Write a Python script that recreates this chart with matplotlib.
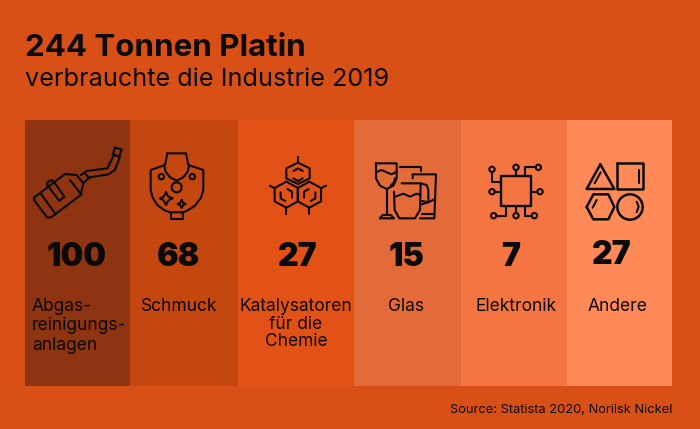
import matplotlib
matplotlib.use("Agg")
import matplotlib.pyplot as plt
from matplotlib.patches import Circle

BG = "#D95016"
INK = "#0A0A0A"

categories = ["Abgas-\nreinigungs-\nanlagen", "Schmuck", "Katalysatoren\nfür die\nChemie", "Glas", "Elektronik", "Andere"]
values = [100, 68, 27, 15, 7, 27]
colors = ["#8F3410", "#C44710", "#E25217", "#E36A39", "#F47542", "#FF8A57"]
edges = [25, 130, 238, 354, 461, 567, 672]

plt.rcParams["font.family"] = ["Inter", "DejaVu Sans"]

fig = plt.figure(figsize=(7, 4.29), dpi=100, facecolor=BG)
ax = fig.add_axes([0, 0, 1, 1])
ax.set_xlim(0, 700)
ax.set_ylim(429, 0)
ax.axis("off")

# columns all have the same height, the value is only printed
for i, c in enumerate(colors):
    ax.bar(edges[i], 266, width=edges[i + 1] - edges[i], bottom=120, align="edge", color=c, linewidth=0)


def line(ox, oy, pts, lw=1.5):
    xs = [ox + p[0] / 3 for p in pts]
    ys = [oy + p[1] / 3 for p in pts]
    ax.plot(xs, ys, color=INK, lw=lw, solid_capstyle="round", solid_joinstyle="round")


def circ(ox, oy, x, y, r, lw=1.5):
    ax.add_patch(Circle((ox + x / 3, oy + y / 3), r / 3, fill=False, ec=INK, lw=lw))


def exhaust(ox, oy):
    line(ox, oy, [(42, 248), (135, 177), (170, 180), (190, 205), (182, 240), (95, 306), (82, 308), (42, 255), (42, 248)])
    line(ox, oy, [(62, 235), (105, 295)])
    line(ox, oy, [(150, 195), (185, 240)])
    line(ox, oy, [(82, 210), (82, 202), (95, 195), (105, 205), (133, 245), (118, 258), (82, 210)])
    line(ox, oy, [(183, 180), (200, 168), (262, 160), (283, 118)])
    line(ox, oy, [(190, 205), (208, 187), (265, 178), (285, 165), (300, 125)])
    line(ox, oy, [(285, 98), (305, 103), (298, 125), (278, 118), (285, 98)])
    line(ox, oy, [(195, 175), (208, 190)])


def necklace(ox, oy):
    line(ox, oy, [(442, 115), (498, 115), (505, 150), (550, 165), (550, 225), (543, 248), (525, 272), (505, 285), (490, 292),
                  (450, 292), (432, 285), (412, 270), (398, 248), (392, 225), (392, 165), (435, 150), (442, 115)])
    line(ox, oy, [(432, 150), (437, 170), (450, 187), (470, 197), (490, 187), (503, 170), (508, 150)])
    circ(ox, oy, 470, 217, 15)
    circ(ox, oy, 424, 185, 8)
    circ(ox, oy, 517, 185, 8)
    line(ox, oy, [(438, 232), (445, 245), (458, 250), (445, 256), (438, 270), (431, 256), (420, 250), (431, 245), (438, 232)])
    line(ox, oy, [(485, 255), (489, 263), (497, 267), (489, 271), (485, 279), (481, 271), (473, 267), (481, 263), (485, 255)])
    line(ox, oy, [(452, 292), (452, 312), (490, 312), (490, 292)])


def hexagons(ox, oy):
    line(ox, oy, [(174, 143), (209, 160), (209, 190), (174, 207), (139, 190), (139, 160), (174, 143)])
    for cx, cy in [(139, 239), (208, 239)]:
        line(ox, oy, [(cx, cy - 39), (cx + 35, cy - 20), (cx + 35, cy + 20), (cx, cy + 39), (cx - 35, cy + 20),
                      (cx - 35, cy - 20), (cx, cy - 39)])
    line(ox, oy, [(174, 125), (174, 143)])
    line(ox, oy, [(139, 279), (139, 297)])
    line(ox, oy, [(208, 279), (208, 297)])
    line(ox, oy, [(90, 212), (104, 220)])
    line(ox, oy, [(258, 212), (243, 220)])
    line(ox, oy, [(160, 168), (174, 160), (188, 168)])
    line(ox, oy, [(160, 190), (174, 198), (188, 190)])
    line(ox, oy, [(122, 232), (122, 250), (136, 258)])
    line(ox, oy, [(142, 222), (156, 230), (156, 248)])
    line(ox, oy, [(192, 248), (192, 230), (206, 222)])
    line(ox, oy, [(226, 232), (226, 250), (212, 258)])


def glasses(ox, oy):
    line(ox, oy, [(408, 145), (470, 145), (470, 190), (460, 212), (440, 222), (420, 212), (408, 190), (408, 145)])
    line(ox, oy, [(408, 172), (425, 165), (440, 172), (455, 178), (470, 170)])
    line(ox, oy, [(440, 222), (440, 297)])
    line(ox, oy, [(420, 310), (428, 300), (452, 300), (462, 310), (420, 310)])
    line(ox, oy, [(452, 212), (462, 202), (465, 190)])
    # jug
    line(ox, oy, [(462, 230), (464, 285), (478, 310), (525, 310), (540, 285), (542, 205), (485, 205)])
    line(ox, oy, [(466, 245), (490, 236), (510, 245), (530, 236), (542, 240)])
    line(ox, oy, [(542, 205), (560, 210), (565, 225), (565, 262), (545, 268)])
    line(ox, oy, [(480, 157), (542, 157), (542, 168)])
    # tumbler
    line(ox, oy, [(518, 190), (518, 178), (588, 178), (583, 310), (540, 310)])
    line(ox, oy, [(546, 258), (565, 262), (585, 252)])
    line(ox, oy, [(545, 297), (582, 297)])


def chip(ox, oy):
    line(ox, oy, [(122, 184), (213, 184), (213, 273), (122, 273), (122, 184)], lw=1.7)
    for x, y, r in [(96, 163, 8), (168, 157, 8), (235, 157, 8), (96, 230, 8), (240, 230, 8), (101, 302, 8), (168, 302, 8), (223, 302, 8)]:
        circ(ox, oy, x, y, r)
    line(ox, oy, [(96, 171), (96, 201), (122, 201)])
    line(ox, oy, [(168, 165), (168, 184)])
    line(ox, oy, [(196, 184), (196, 157), (227, 157)])
    line(ox, oy, [(104, 230), (122, 230)])
    line(ox, oy, [(213, 230), (232, 230)])
    line(ox, oy, [(109, 302), (139, 302), (139, 273)])
    line(ox, oy, [(168, 273), (168, 294)])
    line(ox, oy, [(196, 273), (196, 302), (215, 302)])


def shapes(ox, oy):
    line(ox, oy, [(421, 148), (463, 222), (380, 222), (421, 148)], lw=1.8)
    line(ox, oy, [(404, 205), (422, 172)])
    line(ox, oy, [(472, 145), (550, 145), (550, 222), (472, 222), (472, 145)], lw=1.8)
    line(ox, oy, [(538, 165), (538, 203)])
    line(ox, oy, [(380, 276), (400, 238), (445, 238), (463, 276), (445, 313), (400, 313), (380, 276)], lw=1.8)
    line(ox, oy, [(398, 278), (410, 255)])
    circ(ox, oy, 510, 276, 38, lw=1.8)
    line(ox, oy, [(530, 260), (536, 275), (530, 292)])


exhaust(20, 115)
necklace(20, 115)
hexagons(240, 115)
glasses(240, 115)
chip(460, 115)
shapes(460, 115)

# value and category text per column
value_x = [77, 179, 298, 407, 511, 612]
value_y = [257, 257, 257, 257, 257, 255]
label_x = [32, 179, 296, 406, 516, 617]
label_ha = ["left", "center", "center", "center", "center", "center"]
label_spacing = [1.18, 1.25, 1.04, 1.25, 1.25, 1.25]
for i, v in enumerate(values):
    ax.text(value_x[i], value_y[i], str(v), color=INK, fontsize=23, fontweight="black", ha="center", va="center")
    ax.text(label_x[i], 298, categories[i], color=INK, fontsize=12.5, ha=label_ha[i], va="top",
            multialignment=label_ha[i], linespacing=label_spacing[i])

ax.text(25, 48, "244 Tonnen Platin", color=INK, fontsize=22.5, fontweight="bold", ha="left", va="center")
ax.text(25, 80, "verbrauchte die Industrie 2019", color=INK, fontsize=18.2, ha="left", va="center")
ax.text(672, 410, "Source: Statista 2020, Norilsk Nickel", color=INK, fontsize=9.3, ha="right", va="center")

fig.savefig("out.png", dpi=100, facecolor=BG)
